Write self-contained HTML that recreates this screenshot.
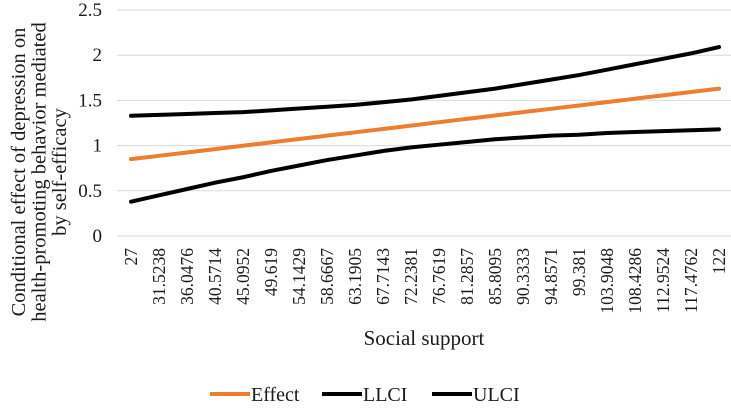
<!DOCTYPE html>
<html><head><meta charset="utf-8"><style>
body{margin:0;background:#fff}
svg text{font-family:"Liberation Serif",serif;fill:#1a1a1a}
</style></head><body>
<svg id="c" width="731" height="405"></svg>
<script>
const categories=["27","31.5238","36.0476","40.5714","45.0952","49.619","54.1429","58.6667","63.1905","67.7143","72.2381","76.7619","81.2857","85.8095","90.3333","94.8571","99.381","103.9048","108.4286","112.9524","117.4762","122"];
const effect=[0.85,0.887,0.924,0.961,0.998,1.036,1.073,1.110,1.147,1.184,1.221,1.259,1.296,1.333,1.370,1.407,1.444,1.481,1.519,1.556,1.593,1.63];
const llci=[0.38,0.45,0.52,0.59,0.65,0.72,0.78,0.84,0.89,0.94,0.98,1.01,1.04,1.07,1.09,1.11,1.12,1.14,1.15,1.16,1.17,1.18];
const ulci=[1.33,1.34,1.35,1.36,1.37,1.39,1.41,1.43,1.45,1.48,1.51,1.55,1.59,1.63,1.68,1.73,1.78,1.84,1.90,1.96,2.02,2.09];
const yTicks=[0,0.5,1,1.5,2,2.5];
const svg=document.getElementById('c');
const NS='http://www.w3.org/2000/svg';
const left=117,right=733,y0=236,y1=10;
const band=(right-left)/categories.length;
const X=i=>left+band*(i+0.5);
const Y=v=>y0-(v/2.5)*(y0-y1);
function mk(t,a){const e=document.createElementNS(NS,t);for(const k in a)e.setAttribute(k,a[k]);svg.appendChild(e);return e;}
yTicks.forEach(v=>{
  const g=mk('line',{x1:left,x2:731,y1:Y(v),y2:Y(v),stroke:'#d9d9d9','stroke-width':1});
  
  
  const t=mk('text',{x:102,y:Y(v)+6,'text-anchor':'end','font-size':19});
  t.textContent=v;
  
  
});
categories.forEach((c,i)=>{
  const t=mk('text',{transform:`translate(${X(i)+6},248) rotate(-90)`,'text-anchor':'end','font-size':17.5});
  t.textContent=c;
  
  
});
function series(arr,color,name){
  const p=mk('polyline',{points:arr.map((v,i)=>X(i)+','+Y(v)).join(' '),fill:'none',stroke:color,'stroke-width':4,'stroke-linecap':'round'});
  
  
}
series(llci,'#000','llci-line');
series(ulci,'#000','ulci-line');
series(effect,'#ed7d31','effect-line');
const yt=mk('text',{transform:'translate(45,172) rotate(-90)','text-anchor':'middle','font-size':20.5});


["Conditional effect of depression on","health-promoting behavior mediated","by self-efficacy"].forEach((s,i)=>{const ts=document.createElementNS(NS,'tspan');ts.setAttribute('x',0);ts.setAttribute('y',-20+i*20.5);ts.textContent=s;yt.appendChild(ts);});
const xt=mk('text',{x:424,y:345,'text-anchor':'middle','font-size':21});
xt.textContent='Social support';


[['Effect','#ed7d31',210],['LLCI','#000',322],['ULCI','#000',432]].forEach(([n,c,x])=>{
  const l=mk('line',{x1:x,x2:x+40,y1:394,y2:394,stroke:c,'stroke-width':4});
  
  
  const t=mk('text',{x:x+41,y:401,'font-size':20});
  t.textContent=n;
  
  
});
</script>
</body></html>
